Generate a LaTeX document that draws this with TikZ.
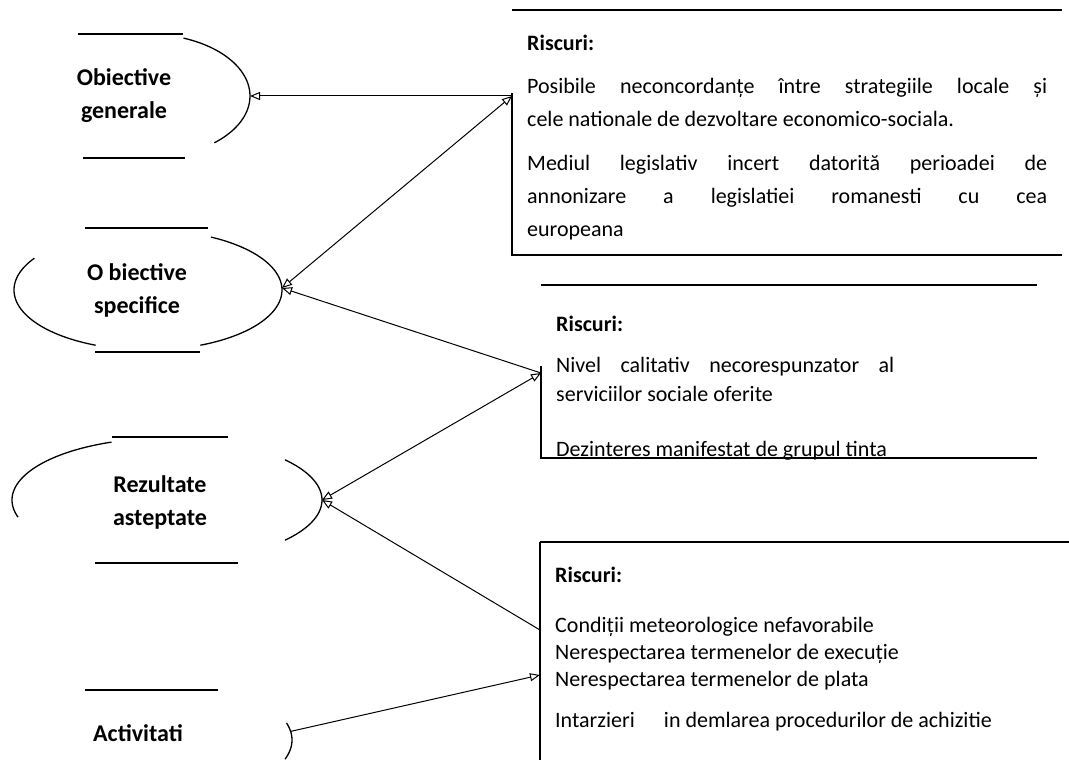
\documentclass[tikz,border=0pt]{standalone}
\usepackage{fontspec}
\setmainfont{Carlito}
\usetikzlibrary{arrows.meta}
\begin{document}
\begin{tikzpicture}[x=1pt,y=-1pt,
  ln/.style={line width=1.3pt},
  conn/.style={line width=1pt},
  tipA/.style={-{Triangle[open,length=10pt,width=8pt]}},
  tipB/.style={{Triangle[open,length=10pt,width=8pt]}-{Triangle[open,length=10pt,width=8pt]}},
  lbl/.style={font=\fontsize{24}{33}\selectfont\bfseries, align=center, inner sep=0},
  txt/.style={font=\fontsize{22}{27}\selectfont, anchor=base west, inner sep=0},
  head/.style={font=\fontsize{22}{27}\selectfont\bfseries, anchor=base west, inner sep=0}]
\useasboundingbox (0,0) rectangle (1069,760);

% ---- Obiective generale
\draw[ln] (78,34) -- (183,34);
\draw[ln] (83,158) -- (185,158);
\draw[ln] plot[domain=-69:49,samples=50] ({146.5+103.5*cos(\x)},{96+62*sin(\x)});
\coordinate (gen) at (250,96);
\node[lbl] (gentxt) at (124,96) {Obiective\\generale};

% ---- Obiective specifice
\draw[ln] (85,228) -- (208,228);
\draw[ln] (95,352) -- (200,352);
\draw[ln] plot[domain=113:212,samples=50] ({148+134*cos(\x)},{290+60*sin(\x)});
\draw[ln] plot[domain=-62:67,samples=50] ({148+134*cos(\x)},{290+60*sin(\x)});
\coordinate (spe) at (282,288);
\node[lbl] (spetxt) at (137,290) {O biective\\specifice};

% ---- Rezultate asteptate
\draw[ln] (112,437) -- (228,437);
\draw[ln] (95,563) -- (238,563);
\draw[ln] plot[domain=164:249,samples=50] ({167+155*cos(\x)},{500+62*sin(\x)});
\draw[ln] plot[domain=-40.4:40.4,samples=50] ({167+155*cos(\x)},{500+62*sin(\x)});
\coordinate (rez) at (322,500);
\node[lbl] (reztxt) at (160,502) {Rezultate\\asteptate};

% ---- Activitati
\draw[ln] (85,690) -- (218,690);
\draw[ln] plot[domain=-16:18,samples=30] ({150+142*cos(\x)},{740+62*sin(\x)});
\coordinate (act) at (290.6,731.4);
\node[lbl] (acttxt) at (138,733) {Activitati};

% ---- Box 1
\draw[ln] (512,10) -- (1062,10);
\draw[ln] (512,93) -- (512,255) -- (1062,255);
\coordinate (b1) at (512,96);
\node[head] (r1) at (527,51) {Riscuri:};
\node[txt] (r1a) at (527,94) {\makebox[520pt][s]{Posibile neconcordanțe între strategiile locale și}};
\node[txt] (r1b) at (527,126) {cele nationale de dezvoltare economico-sociala.};
\node[txt] (r1c) at (527,170) {\makebox[520pt][s]{Mediul legislativ incert datorită perioadei de}};
\node[txt] (r1d) at (527,203) {\makebox[520pt][s]{annonizare a legislatiei romanesti cu cea}};
\node[txt] (r1e) at (527,236) {europeana};

% ---- Box 2
\draw[ln] (541,285) -- (1037,285);
\draw[ln] (541,366) -- (541,458) -- (1037,458);
\coordinate (b2) at (541,373);
\node[head] (r2) at (556,331) {Riscuri:};
\node[txt] (r2a) at (556,372) {\makebox[338pt][s]{Nivel calitativ necorespunzator al}};
\node[txt] (r2b) at (556,401) {serviciilor sociale oferite};
\node[txt] (r2c) at (556,456) {Dezinteres manifestat de grupul tinta};

% ---- Box 3
\draw[ln] (540,542) -- (1069,542);
\draw[ln] (540,542) -- (540,760);
\coordinate (b3a) at (540,630);
\coordinate (b3b) at (540,675);
\node[head] (r3) at (555,582) {Riscuri:};
\node[txt] (r3a) at (555,632) {Condiții meteorologice nefavorabile};
\node[txt] (r3b) at (555,659) {Nerespectarea termenelor de execuție};
\node[txt] (r3c) at (555,686) {Nerespectarea termenelor de plata};
\node[txt] (r3d) at (555,727) {Intarzieri\hspace{1.1em} in demlarea procedurilor de achizitie};

% ---- connectors
\draw[conn,tipA] (b1) -- (gen);
\draw[conn,tipB] (spe) -- (b1);
\draw[conn,tipA] (b2) -- (spe);
\draw[conn,tipB] (rez) -- (b2);
\draw[conn,tipA] (b3a) -- (rez);
\draw[conn,tipA] (act) -- (b3b);
\end{tikzpicture}
\end{document}
